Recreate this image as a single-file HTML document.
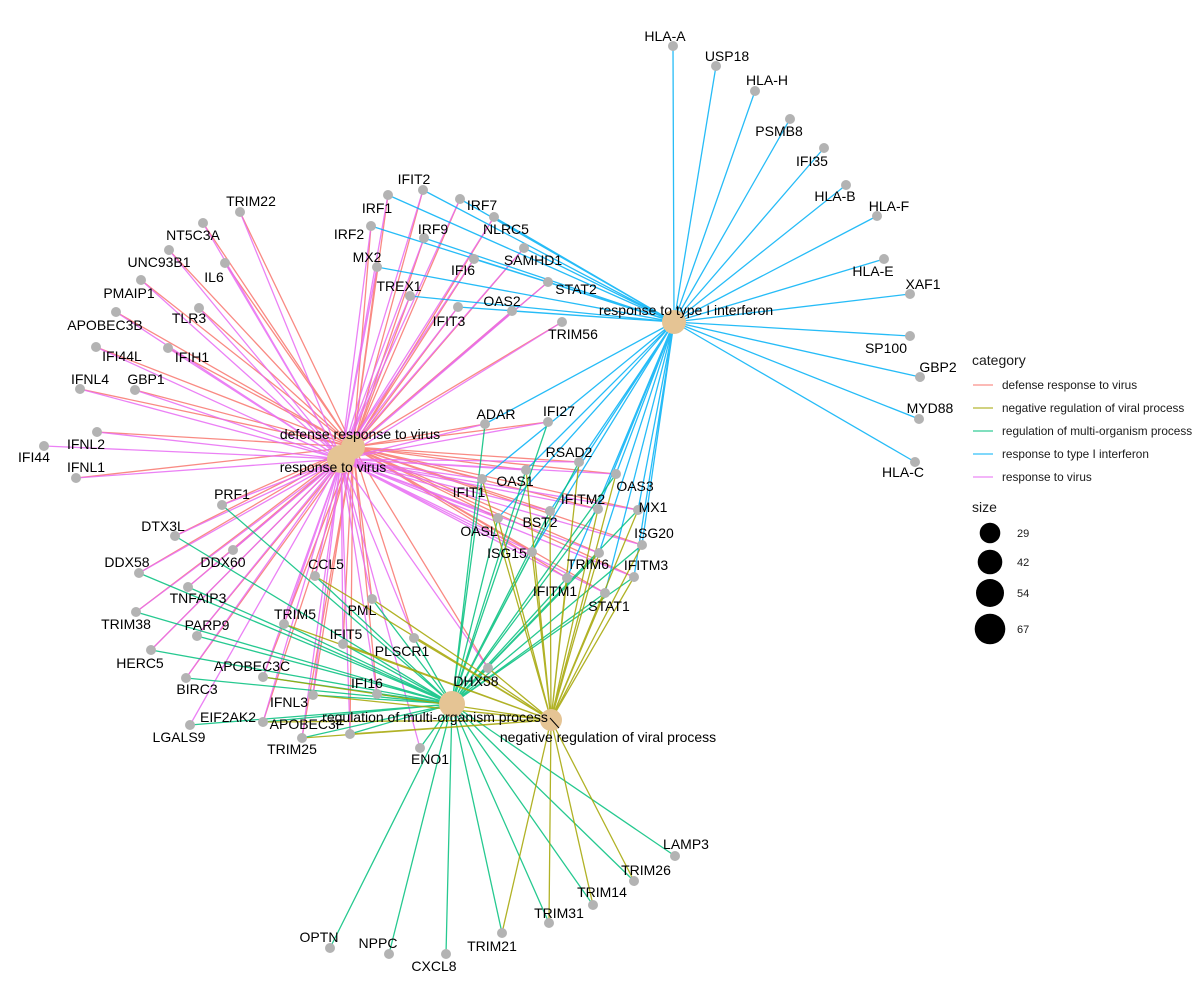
<!DOCTYPE html>
<html><head><meta charset="utf-8"><style>
html,body{margin:0;padding:0;background:#fff;}
svg{display:block;font-family:"Liberation Sans",Arial,sans-serif;}
.e{fill:none;stroke-width:1.3;stroke-opacity:0.85;}
.g{fill:#B3B3B3;}
.h{fill:#E5C494;}
.t text{font-size:14px;fill:#000;text-anchor:middle;}
.lg text{fill:#1a1a1a;}
</style></head><body>
<svg width="1200" height="1000" viewBox="0 0 1200 1000" xmlns="http://www.w3.org/2000/svg">
<rect width="1200" height="1000" fill="#fff"/>
<!-- defense response to virus -->
<path class="e" stroke="#F8766D" d="M353 447L240 212M353 447L203 223M353 447L169 250M353 447L225 263M353 447L141 280M353 447L199 308M353 447L116 312M353 447L96 347M353 447L168 348M353 447L80 389M353 447L135 390M353 447L97 432M353 447L76 478M353 447L423 190M353 447L388 195M353 447L460 199M353 447L494 217M353 447L371 226M353 447L424 238M353 447L524 248M353 447L474 259M353 447L377 267M353 447L548 282M353 447L410 296M353 447L458 307M353 447L512 311M353 447L562 322M353 447L485 424M353 447L548 422M353 447L579 462M353 447L526 470M353 447L616 474M353 447L482 479M353 447L598 509M353 447L638 510M353 447L550 511M353 447L498 518M353 447L642 545M353 447L532 552M353 447L599 553M353 447L634 577M353 447L567 578M353 447L605 593M353 447L488 668M353 447L222 505M353 447L175 536M353 447L233 550M353 447L139 573M353 447L315 576M353 447L188 587M353 447L372 599M353 447L136 612M353 447L284 624M353 447L197 636M353 447L343 644M353 447L414 638M353 447L151 650M353 447L263 677M353 447L186 678M353 447L377 694M353 447L313 695M353 447L263 722M353 447L350 734M353 447L302 738"/>
<!-- response to virus -->
<path class="e" stroke="#E76BF3" d="M341 459L240 212M341 459L203 223M341 459L169 250M341 459L225 263M341 459L141 280M341 459L199 308M341 459L116 312M341 459L96 347M341 459L168 348M341 459L80 389M341 459L135 390M341 459L97 432M341 459L76 478M341 459L44 446M341 459L423 190M341 459L388 195M341 459L460 199M341 459L494 217M341 459L371 226M341 459L424 238M341 459L524 248M341 459L474 259M341 459L377 267M341 459L548 282M341 459L410 296M341 459L458 307M341 459L512 311M341 459L562 322M341 459L485 424M341 459L548 422M341 459L579 462M341 459L526 470M341 459L616 474M341 459L482 479M341 459L598 509M341 459L638 510M341 459L550 511M341 459L498 518M341 459L642 545M341 459L532 552M341 459L599 553M341 459L634 577M341 459L567 578M341 459L605 593M341 459L488 668M341 459L222 505M341 459L175 536M341 459L233 550M341 459L139 573M341 459L315 576M341 459L188 587M341 459L372 599M341 459L136 612M341 459L284 624M341 459L197 636M341 459L343 644M341 459L414 638M341 459L151 650M341 459L263 677M341 459L186 678M341 459L377 694M341 459L313 695M341 459L263 722M341 459L350 734M341 459L302 738M341 459L190 725M341 459L420 748"/>
<!-- response to type I interferon -->
<path class="e" stroke="#00B0F6" d="M674 322L673 46M674 322L716 66M674 322L755 91M674 322L790 119M674 322L824 148M674 322L846 185M674 322L877 216M674 322L884 259M674 322L910 294M674 322L910 336M674 322L920 377M674 322L919 419M674 322L915 462M674 322L423 190M674 322L388 195M674 322L460 199M674 322L494 217M674 322L371 226M674 322L424 238M674 322L524 248M674 322L474 259M674 322L377 267M674 322L548 282M674 322L410 296M674 322L458 307M674 322L512 311M674 322L485 424M674 322L579 462M674 322L526 470M674 322L616 474M674 322L482 479M674 322L598 509M674 322L638 510M674 322L550 511M674 322L498 518M674 322L642 545M674 322L532 552M674 322L599 553M674 322L634 577M674 322L567 578M674 322L605 593"/>
<!-- regulation of multi-organism process -->
<path class="e" stroke="#00BF7D" d="M452 704L222 505M452 704L175 536M452 704L139 573M452 704L315 576M452 704L188 587M452 704L372 599M452 704L136 612M452 704L284 624M452 704L197 636M452 704L343 644M452 704L414 638M452 704L151 650M452 704L263 677M452 704L186 678M452 704L377 694M452 704L313 695M452 704L190 725M452 704L263 722M452 704L350 734M452 704L302 738M452 704L420 748M452 704L485 424M452 704L548 422M452 704L579 462M452 704L526 470M452 704L616 474M452 704L482 479M452 704L598 509M452 704L638 510M452 704L550 511M452 704L498 518M452 704L642 545M452 704L532 552M452 704L599 553M452 704L634 577M452 704L567 578M452 704L605 593M452 704L488 668M452 704L330 948M452 704L389 954M452 704L446 954M452 704L502 933M452 704L549 923M452 704L593 905M452 704L634 881M452 704L675 856"/>
<!-- negative regulation of viral process -->
<path class="e" stroke="#A3A500" d="M551 720L315 576M551 720L372 599M551 720L284 624M551 720L343 644M551 720L414 638M551 720L263 677M551 720L313 695M551 720L263 722M551 720L350 734M551 720L302 738M551 720L377 694M551 720L579 462M551 720L526 470M551 720L616 474M551 720L482 479M551 720L598 509M551 720L638 510M551 720L550 511M551 720L498 518M551 720L642 545M551 720L532 552M551 720L599 553M551 720L634 577M551 720L567 578M551 720L605 593M551 720L488 668M551 720L502 933M551 720L549 923M551 720L593 905M551 720L634 881"/>

<!-- hub nodes -->
<circle class="h" cx="341" cy="459" r="14"/>
<circle class="h" cx="353" cy="447" r="12"/>
<circle class="h" cx="674" cy="322" r="12"/>
<circle class="h" cx="452" cy="704" r="13"/>
<circle class="h" cx="551" cy="720" r="11"/>

<!-- gene nodes -->
<g class="g">
<circle cx="673" cy="46" r="5"/><circle cx="716" cy="66" r="5"/><circle cx="755" cy="91" r="5"/><circle cx="790" cy="119" r="5"/><circle cx="824" cy="148" r="5"/><circle cx="846" cy="185" r="5"/><circle cx="877" cy="216" r="5"/><circle cx="884" cy="259" r="5"/><circle cx="910" cy="294" r="5"/><circle cx="910" cy="336" r="5"/><circle cx="920" cy="377" r="5"/><circle cx="919" cy="419" r="5"/><circle cx="915" cy="462" r="5"/>
<circle cx="423" cy="190" r="5"/><circle cx="388" cy="195" r="5"/><circle cx="460" cy="199" r="5"/><circle cx="494" cy="217" r="5"/><circle cx="371" cy="226" r="5"/><circle cx="424" cy="238" r="5"/><circle cx="524" cy="248" r="5"/><circle cx="474" cy="259" r="5"/><circle cx="377" cy="267" r="5"/><circle cx="548" cy="282" r="5"/><circle cx="410" cy="296" r="5"/><circle cx="458" cy="307" r="5"/><circle cx="512" cy="311" r="5"/><circle cx="562" cy="322" r="5"/>
<circle cx="240" cy="212" r="5"/><circle cx="203" cy="223" r="5"/><circle cx="169" cy="250" r="5"/><circle cx="225" cy="263" r="5"/><circle cx="141" cy="280" r="5"/><circle cx="199" cy="308" r="5"/><circle cx="116" cy="312" r="5"/><circle cx="96" cy="347" r="5"/><circle cx="168" cy="348" r="5"/><circle cx="80" cy="389" r="5"/><circle cx="135" cy="390" r="5"/><circle cx="97" cy="432" r="5"/><circle cx="44" cy="446" r="5"/><circle cx="76" cy="478" r="5"/>
<circle cx="485" cy="424" r="5"/><circle cx="548" cy="422" r="5"/><circle cx="579" cy="462" r="5"/><circle cx="526" cy="470" r="5"/><circle cx="616" cy="474" r="5"/><circle cx="482" cy="479" r="5"/><circle cx="598" cy="509" r="5"/><circle cx="638" cy="510" r="5"/><circle cx="550" cy="511" r="5"/><circle cx="498" cy="518" r="5"/><circle cx="642" cy="545" r="5"/><circle cx="532" cy="552" r="5"/><circle cx="599" cy="553" r="5"/><circle cx="634" cy="577" r="5"/><circle cx="567" cy="578" r="5"/><circle cx="605" cy="593" r="5"/><circle cx="488" cy="668" r="5"/>
<circle cx="222" cy="505" r="5"/><circle cx="175" cy="536" r="5"/><circle cx="233" cy="550" r="5"/><circle cx="139" cy="573" r="5"/><circle cx="315" cy="576" r="5"/><circle cx="188" cy="587" r="5"/><circle cx="372" cy="599" r="5"/><circle cx="136" cy="612" r="5"/><circle cx="284" cy="624" r="5"/><circle cx="197" cy="636" r="5"/><circle cx="343" cy="644" r="5"/><circle cx="414" cy="638" r="5"/><circle cx="151" cy="650" r="5"/><circle cx="263" cy="677" r="5"/><circle cx="186" cy="678" r="5"/><circle cx="377" cy="694" r="5"/><circle cx="313" cy="695" r="5"/><circle cx="190" cy="725" r="5"/><circle cx="263" cy="722" r="5"/><circle cx="350" cy="734" r="5"/><circle cx="302" cy="738" r="5"/><circle cx="420" cy="748" r="5"/>
<circle cx="330" cy="948" r="5"/><circle cx="389" cy="954" r="5"/><circle cx="446" cy="954" r="5"/><circle cx="502" cy="933" r="5"/><circle cx="549" cy="923" r="5"/><circle cx="593" cy="905" r="5"/><circle cx="634" cy="881" r="5"/><circle cx="675" cy="856" r="5"/>
</g>

<line x1="550" y1="718" x2="559" y2="728" stroke="#000" stroke-width="1"/>

<!-- labels -->
<g class="t">
<text x="665" y="41">HLA-A</text>
<text x="727" y="61">USP18</text>
<text x="767" y="85">HLA-H</text>
<text x="779" y="136">PSMB8</text>
<text x="812" y="166">IFI35</text>
<text x="835" y="201">HLA-B</text>
<text x="889" y="211">HLA-F</text>
<text x="873" y="276">HLA-E</text>
<text x="923" y="289">XAF1</text>
<text x="886" y="353">SP100</text>
<text x="938" y="372">GBP2</text>
<text x="930" y="413">MYD88</text>
<text x="903" y="477">HLA-C</text>
<text x="414" y="184">IFIT2</text>
<text x="377" y="213">IRF1</text>
<text x="482" y="210">IRF7</text>
<text x="506" y="234">NLRC5</text>
<text x="349" y="239">IRF2</text>
<text x="433" y="234">IRF9</text>
<text x="533" y="265">SAMHD1</text>
<text x="463" y="275">IFI6</text>
<text x="367" y="262">MX2</text>
<text x="576" y="294">STAT2</text>
<text x="399" y="291">TREX1</text>
<text x="449" y="326">IFIT3</text>
<text x="502" y="306">OAS2</text>
<text x="573" y="339">TRIM56</text>
<text x="251" y="206">TRIM22</text>
<text x="193" y="240">NT5C3A</text>
<text x="159" y="267">UNC93B1</text>
<text x="214" y="282">IL6</text>
<text x="129" y="298">PMAIP1</text>
<text x="189" y="323">TLR3</text>
<text x="105" y="330">APOBEC3B</text>
<text x="122" y="361">IFI44L</text>
<text x="192" y="362">IFIH1</text>
<text x="90" y="384">IFNL4</text>
<text x="146" y="384">GBP1</text>
<text x="86" y="449">IFNL2</text>
<text x="34" y="462">IFI44</text>
<text x="86" y="472">IFNL1</text>
<text x="496" y="419">ADAR</text>
<text x="559" y="416">IFI27</text>
<text x="569" y="457">RSAD2</text>
<text x="515" y="486">OAS1</text>
<text x="635" y="491">OAS3</text>
<text x="469" y="497">IFIT1</text>
<text x="583" y="504">IFITM2</text>
<text x="653" y="512">MX1</text>
<text x="540" y="527">BST2</text>
<text x="479" y="536">OASL</text>
<text x="654" y="538">ISG20</text>
<text x="507" y="558">ISG15</text>
<text x="588" y="569">TRIM6</text>
<text x="646" y="570">IFITM3</text>
<text x="555" y="596">IFITM1</text>
<text x="609" y="611">STAT1</text>
<text x="232" y="499">PRF1</text>
<text x="163" y="531">DTX3L</text>
<text x="223" y="567">DDX60</text>
<text x="127" y="567">DDX58</text>
<text x="326" y="569">CCL5</text>
<text x="198" y="603">TNFAIP3</text>
<text x="362" y="615">PML</text>
<text x="126" y="629">TRIM38</text>
<text x="295" y="619">TRIM5</text>
<text x="207" y="630">PARP9</text>
<text x="346" y="639">IFIT5</text>
<text x="402" y="656">PLSCR1</text>
<text x="140" y="668">HERC5</text>
<text x="252" y="671">APOBEC3C</text>
<text x="197" y="694">BIRC3</text>
<text x="367" y="688">IFI16</text>
<text x="289" y="707">IFNL3</text>
<text x="179" y="742">LGALS9</text>
<text x="228" y="722">EIF2AK2</text>
<text x="307" y="729">APOBEC3F</text>
<text x="292" y="754">TRIM25</text>
<text x="430" y="764">ENO1</text>
<text x="476" y="686">DHX58</text>
<text x="686" y="849">LAMP3</text>
<text x="646" y="875">TRIM26</text>
<text x="602" y="897">TRIM14</text>
<text x="559" y="918">TRIM31</text>
<text x="492" y="951">TRIM21</text>
<text x="319" y="942">OPTN</text>
<text x="378" y="948">NPPC</text>
<text x="434" y="971">CXCL8</text>
<text x="360" y="439">defense response to virus</text>
<text x="333" y="472">response to virus</text>
<text x="686" y="315">response to type I interferon</text>
<text x="435" y="722">regulation of multi-organism process</text>
<text x="608" y="742">negative regulation of viral process</text>
</g>

<!-- legend -->
<g class="lg">
<text x="972" y="365" font-size="14">category</text>
<line x1="973" y1="385" x2="993" y2="385" stroke="#F8766D" stroke-width="1.3" stroke-opacity="0.8"/>
<line x1="973" y1="408" x2="993" y2="408" stroke="#A3A500" stroke-width="1.3" stroke-opacity="0.8"/>
<line x1="973" y1="431" x2="993" y2="431" stroke="#00BF7D" stroke-width="1.3" stroke-opacity="0.8"/>
<line x1="973" y1="454" x2="993" y2="454" stroke="#00B0F6" stroke-width="1.3" stroke-opacity="0.8"/>
<line x1="973" y1="477" x2="993" y2="477" stroke="#E76BF3" stroke-width="1.3" stroke-opacity="0.8"/>
<text x="1002" y="389" font-size="11.8">defense response to virus</text>
<text x="1002" y="412" font-size="11.8">negative regulation of viral process</text>
<text x="1002" y="435" font-size="11.8">regulation of multi-organism process</text>
<text x="1002" y="458" font-size="11.8">response to type I interferon</text>
<text x="1002" y="481" font-size="11.8">response to virus</text>
<text x="972" y="512" font-size="14">size</text>
<circle cx="990" cy="533" r="10.3" fill="#000"/>
<circle cx="990" cy="562" r="12.3" fill="#000"/>
<circle cx="990" cy="593" r="14" fill="#000"/>
<circle cx="990" cy="629" r="15.3" fill="#000"/>
<text x="1017" y="537" font-size="11">29</text>
<text x="1017" y="566" font-size="11">42</text>
<text x="1017" y="597" font-size="11">54</text>
<text x="1017" y="633" font-size="11">67</text>
</g>
</svg>
</body></html>
